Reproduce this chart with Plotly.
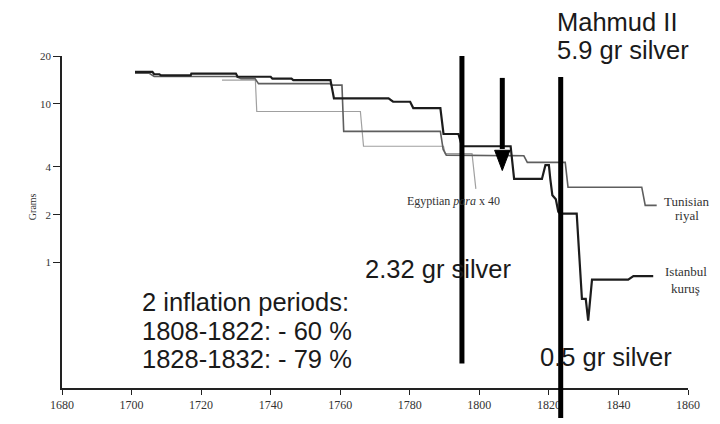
import plotly.graph_objects as go

# ---------------- data ----------------
ist_year = [1701, 1706, 1706.5, 1708, 1708.5, 1717, 1717.2, 1730, 1730.5, 1740, 1740.5, 1746,
            1746.5, 1757.2, 1758.2, 1773.9, 1775.2, 1780.1, 1781, 1788.8, 1789.7, 1794, 1795,
            1809, 1810, 1818, 1819, 1820, 1820.4, 1821, 1822, 1822.7, 1823.2, 1828, 1829.5,
            1830.6, 1831.3, 1832.4, 1842.8, 1844.3, 1850]
ist_grams = [15.9, 15.9, 15.35, 15.35, 15.1, 15.1, 15.5, 15.5, 14.8, 14.8, 14.4, 14.4,
             14.1, 14.1, 10.8, 10.8, 10.3, 10.3, 9.4, 9.4, 6.45, 6.45, 5.4,
             5.4, 3.36, 3.36, 4.1, 4.1, 3.36, 2.65, 2.5, 2.09, 2.03, 2.03, 0.59,
             0.59, 0.43, 0.78, 0.78, 0.82, 0.82]

tun_year = [1701, 1705, 1706.5, 1730, 1731.5, 1735.5, 1736.5, 1757, 1757.5, 1760.5, 1761,
            1788.8, 1789.6, 1790.5, 1812.8, 1813.8, 1824.7, 1825.5, 1846.7, 1847.7, 1851]
tun_grams = [15.6, 15.6, 14.85, 14.85, 14.4, 14.4, 13.4, 13.4, 13.1, 13.1, 6.7,
             6.7, 5.16, 4.75, 4.7, 4.27, 4.27, 2.98, 2.98, 2.29, 2.29]

egy_year = [1726, 1735.6, 1736, 1765.8, 1766.7, 1789.7, 1790.2, 1797.9, 1799]
egy_grams = [14.1, 14.1, 8.94, 8.94, 5.4, 5.4, 4.85, 4.85, 2.91]

x_ticks = [1680, 1700, 1720, 1740, 1760, 1780, 1800, 1820, 1840, 1860]
y_ticks = [1, 2, 4, 10, 20]
y_ticktext = ["1", "2", "4", "10", "20"]

# marker years for the thick vertical bars
bar_232_year = 1795.0
arrow_year = 1806.6
mahmud_year = 1823.4

# ---------------- figure ----------------
fig = go.Figure()
fig.add_trace(go.Scatter(x=egy_year, y=egy_grams, mode="lines",
                         line=dict(color="#a0a0a0", width=1.2), hoverinfo="skip"))
fig.add_trace(go.Scatter(x=tun_year, y=tun_grams, mode="lines",
                         line=dict(color="#5e5e5e", width=1.6), hoverinfo="skip"))
fig.add_trace(go.Scatter(x=ist_year, y=ist_grams, mode="lines",
                         line=dict(color="#1c1c1c", width=2.2), hoverinfo="skip"))

serif = "Liberation Serif"
sans = "Liberation Sans"

# the page body has an 8px default margin, so the figure is 8px smaller
fig.update_layout(
    width=712, height=416,
    margin=dict(l=54, r=32, t=48, b=32),
    plot_bgcolor="white", paper_bgcolor="white",
    showlegend=False,
)
fig.update_xaxes(
    range=[1680, 1860], tickvals=x_ticks, ticks="outside", ticklen=5, tickwidth=1.2,
    tickcolor="#222", showline=True, linecolor="#222", linewidth=1.6,
    showgrid=False, zeroline=False,
    tickfont=dict(family=serif, size=12, color="#333"),
)
fig.update_yaxes(
    type="log", range=[-0.791, 1.301], tickvals=y_ticks, ticktext=y_ticktext,
    ticks="outside", ticklen=7, tickwidth=1.2, tickcolor="#222",
    showline=True, linecolor="#222", linewidth=1.6, showgrid=False, zeroline=False,
    tickfont=dict(family=serif, size=11, color="#333"),
)

# thick vertical bars
bar_w = 5
fig.add_shape(type="line", xref="x", yref="paper", x0=bar_232_year, x1=bar_232_year,
              y0=0.074, y1=1.0, line=dict(color="black", width=bar_w))
fig.add_shape(type="line", xref="x", yref="paper", x0=arrow_year, x1=arrow_year,
              y0=0.72, y1=0.934, line=dict(color="black", width=bar_w))
fig.add_shape(type="path", xref="x", yref="paper",
              path=f"M {arrow_year-2.2},0.716 L {arrow_year+2.2},0.716 L {arrow_year},0.655 Z",
              fillcolor="black", line=dict(color="black", width=1))
fig.add_shape(type="line", xref="x", yref="paper", x0=mahmud_year, x1=mahmud_year,
              y0=-0.09, y1=0.937, line=dict(color="black", width=bar_w))

def ann(text, x, y, size, family=sans, color="#1a1a1a", xanchor="left", angle=0):
    fig.add_annotation(text=text, x=x, y=y, xref="paper", yref="paper", showarrow=False,
                       xanchor=xanchor, yanchor="middle", textangle=angle,
                       font=dict(family=family, size=size, color=color))

big = 25.5
ann("Mahmud II", 0.7875, 1.101, big)
ann("5.9 gr silver", 0.7875, 1.018, big)
ann("2.32 gr silver", 0.481, 0.358, big)
ann("2 inflation periods:", 0.1245, 0.259, big)
ann("1808-1822: - 60 %", 0.1245, 0.1726, big)
ann("1828-1832: - 79 %", 0.1245, 0.0878, big)
ann("0.5 gr silver", 0.7605, 0.0923, big)

ann("Egyptian <i>para</i> x 40", 0.626, 0.5625, 12, family=serif, color="#333", xanchor="center")
ann("Tunisian", 0.998, 0.5625, 13, family=serif, color="#333", xanchor="center")
ann("riyal", 0.998, 0.521, 13, family=serif, color="#333", xanchor="center")
ann("Istanbul", 0.9968, 0.351, 13, family=serif, color="#333", xanchor="center")
ann("kuruş", 0.9968, 0.3006, 13, family=serif, color="#333", xanchor="center")
ann("Grams", -0.048, 0.5476, 10, family=serif, color="#333", xanchor="center", angle=-90)

fig.write_html("out.html")
